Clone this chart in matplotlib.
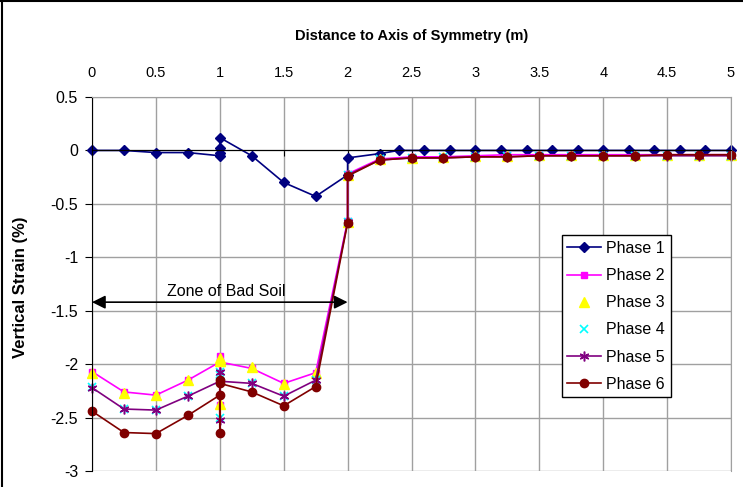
import matplotlib
matplotlib.use('Agg')
import matplotlib.pyplot as plt
from matplotlib.lines import Line2D

plt.rcParams['font.family'] = ['Liberation Sans', 'DejaVu Sans']
plt.rcParams['font.size'] = 11.5

# distances (m)
x_phase1 = [0, 0.25, 0.5, 0.75, 1, 1, 1, 1, 1.25, 1.5, 1.75, 2, 2, 2.25,
            2.4, 2.6, 2.8, 3, 3.2, 3.4, 3.6, 3.8, 4, 4.2, 4.4, 4.6, 4.8, 5]
x_other = [0, 0.25, 0.5, 0.75, 1, 1, 1, 1, 1.25, 1.5, 1.75, 2, 2, 2.25,
           2.5, 2.75, 3, 3.25, 3.5, 3.75, 4, 4.25, 4.5, 4.75, 5]

# vertical strain (%)
phase1 = [0, 0, -0.02, -0.02, -0.05, -0.02, 0.02, 0.12, -0.05, -0.30, -0.43,
          -0.23, -0.07, -0.03, 0, 0, 0, 0, 0, 0, 0, 0, 0, 0, 0, 0, 0, 0]
phase2 = [-2.07, -2.26, -2.29, -2.15, -1.98, -2.38, -1.92, -1.98, -2.04, -2.18,
          -2.08, -0.66, -0.22, -0.08, -0.06, -0.06, -0.05, -0.04, -0.04, -0.04,
          -0.04, -0.04, -0.04, -0.04, -0.04]
phase3 = [-2.08, -2.27, -2.29, -2.15, -1.97, -2.37, -1.94, -1.97, -2.03, -2.19,
          -2.08, -0.67, -0.23, -0.08, -0.07, -0.06, -0.05, -0.05, -0.04, -0.04,
          -0.04, -0.04, -0.04, -0.04, -0.04]
phase4 = [-2.21, -2.42, -2.43, -2.30, -2.07, -2.50, -2.10, -2.16, -2.18, -2.30,
          -2.15, -0.67, -0.23, -0.08, -0.07, -0.06, -0.06, -0.05, -0.05, -0.05,
          -0.05, -0.05, -0.05, -0.05, -0.05]
phase5 = [-2.22, -2.42, -2.43, -2.30, -2.16, -2.52, -2.07, -2.16, -2.18, -2.30,
          -2.15, -0.67, -0.23, -0.09, -0.07, -0.07, -0.06, -0.06, -0.05, -0.05,
          -0.05, -0.05, -0.05, -0.05, -0.05]
phase6 = [-2.44, -2.64, -2.65, -2.48, -2.29, -2.64, -2.15, -2.18, -2.26, -2.39,
          -2.21, -0.68, -0.24, -0.09, -0.07, -0.07, -0.06, -0.06, -0.05, -0.05,
          -0.05, -0.05, -0.04, -0.04, -0.04]

x_ticks = [0, 0.5, 1, 1.5, 2, 2.5, 3, 3.5, 4, 4.5, 5]
y_ticks = [0.5, 0, -0.5, -1, -1.5, -2, -2.5, -3]

fig = plt.figure(figsize=(7.43, 4.87), dpi=100)
ax = fig.add_axes([92 / 743, 1 - 471 / 487, 639 / 743, 374 / 487])

kw = dict(clip_on=False, lw=1.2)
ax.plot(x_phase1, phase1, color='#000080', marker='D', ms=5.5, label='Phase 1', **kw)
ax.plot(x_other, phase2, color='#FF00FF', marker='s', ms=5, label='Phase 2', **kw)
ax.plot(x_other, phase3, color='#FFFF00', marker='^', ms=7, ls='none', label='Phase 3', clip_on=False)
ax.plot(x_other, phase4, color='#00FFFF', marker='x', ms=6, mew=1.2, ls='none', label='Phase 4', clip_on=False)
ax.plot(x_other, phase5, color='#800080', marker=(6, 2, 0), ms=7, mew=1.1, label='Phase 5', **kw)
ax.plot(x_other, phase6, color='#800000', marker='o', ms=6, label='Phase 6', **kw)

ax.set_xlim(0, 5)
ax.set_ylim(-3, 0.5)
ax.set_xticks(x_ticks)
ax.set_xticklabels([f'{t:g}' for t in x_ticks])
ax.set_yticks(y_ticks)
ax.set_yticklabels([f'{t:g}' for t in y_ticks])
ax.grid(True, color='#a0a0a0', lw=1)
ax.set_axisbelow(True)

# horizontal axis crosses at 0, labels on top
ax.spines['bottom'].set_position(('data', 0))
ax.spines['bottom'].set_color('black')
ax.spines['left'].set_color('black')
ax.spines['top'].set_color('#a0a0a0')
ax.spines['right'].set_color('#a0a0a0')
ax.tick_params(axis='x', bottom=True, top=False, labelbottom=False, labeltop=True,
               direction='out', length=4, pad=8, labelsize=10.5)
ax.tick_params(axis='y', direction='out', length=5, pad=5, labelsize=11.5)

ax.xaxis.set_label_position('top')
ax.set_xlabel('Distance to Axis of Symmetry (m)', fontweight='bold',
              fontsize=10.5, labelpad=19)
ax.set_ylabel('Vertical Strain (%)', fontweight='bold', fontsize=12)
ax.yaxis.set_label_coords(-64 / 639, 0.49)

ax.annotate('', xy=(0, -1.42), xytext=(2, -1.42),
            arrowprops=dict(arrowstyle='<|-|>', color='black', lw=1.2,
                            mutation_scale=20, shrinkA=0, shrinkB=0))
ax.text(1.05, -1.32, 'Zone of Bad Soil', ha='center', va='center', fontsize=11.5)

leg = ax.legend(loc='upper left', bbox_to_anchor=(0.735, 0.63), fancybox=False,
                edgecolor='black', framealpha=1, labelspacing=0.76,
                handlelength=2.1, handletextpad=0.35, borderpad=0.35,
                borderaxespad=0, fontsize=11.5)
leg.get_frame().set_linewidth(1)

fig.add_artist(Line2D([0.003, 0.003], [0, 1], transform=fig.transFigure, color='black', lw=1.5))
fig.add_artist(Line2D([0, 1], [0.997, 0.997], transform=fig.transFigure, color='black', lw=1.5))

fig.savefig('out.png', dpi=100)
